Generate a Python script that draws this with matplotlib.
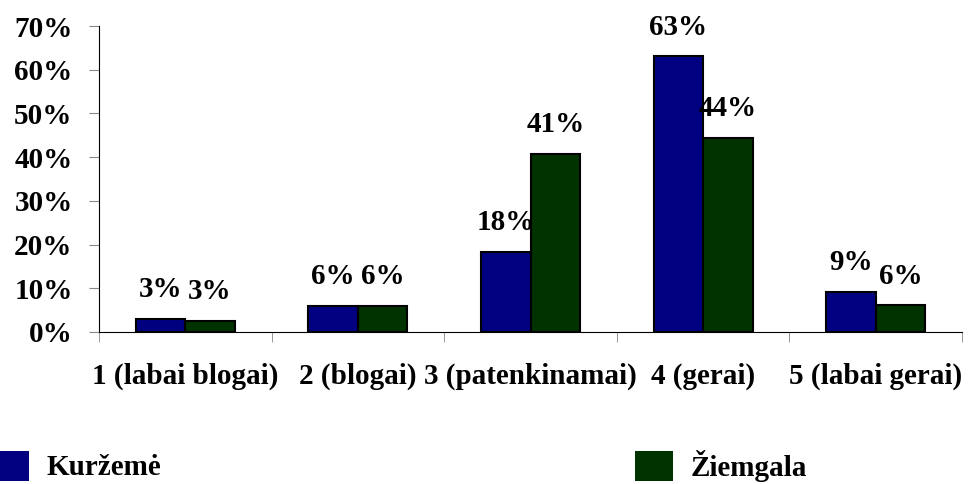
import matplotlib
matplotlib.use("Agg")
import matplotlib.pyplot as plt
import numpy as np
from matplotlib.patches import Patch

categories = ["1 (labai blogai)", "2 (blogai)", "3 (patenkinamai)", "4 (gerai)", "5 (labai gerai)"]
kurzeme = [3.0, 6.0, 18.4, 63.1, 9.2]
ziemgala = [2.6, 6.0, 40.8, 44.4, 6.1]
kurzeme_labels = ["3%", "6%", "18%", "63%", "9%"]
ziemgala_labels = ["3%", "6%", "41%", "44%", "6%"]
series_names = ["Kuržemė", "Žiemgala"]
yticks = [0, 10, 20, 30, 40, 50, 60, 70]
ytick_labels = ["0%", "10%", "20%", "30%", "40%", "50%", "60%", "70%"]

blue = "#000080"
green = "#003300"
font = "Liberation Serif"
fs = 21

fig = plt.figure(figsize=(9.69, 4.84), dpi=100)
ax = fig.add_axes([99/969, 1-332/484, (962-99)/969, (332-26)/484])

x = np.arange(len(categories))
w = 0.287
b1 = ax.bar(x - w/2, kurzeme, w, color=blue, edgecolor="black", linewidth=1.5)
b2 = ax.bar(x + w/2, ziemgala, w, color=green, edgecolor="black", linewidth=1.5)

for bars, labs in ((b1, kurzeme_labels), (b2, ziemgala_labels)):
    for r, lab in zip(bars, labs):
        ax.annotate(lab, (r.get_x() + r.get_width()/2, r.get_height()),
                    xytext=(0, 29), textcoords="offset pixels",
                    ha="center", va="center", fontsize=fs,
                    fontweight="bold", family=font)

ax.set_xlim(-0.5, len(categories) - 0.5)
ax.set_ylim(0, 70)
ax.set_yticks(yticks)
ax.set_yticklabels(ytick_labels, fontsize=fs, fontweight="bold", family=font)
ax.set_xticks(x)
ax.set_xticklabels(categories, fontsize=fs, fontweight="bold", family=font)
ax.set_xticks(np.arange(len(categories) + 1) - 0.5, minor=True)
ax.tick_params(axis="x", which="major", length=0, pad=22)
ax.tick_params(axis="x", which="minor", length=7, color="#888888", direction="out")
ax.tick_params(axis="y", length=7, color="#888888", direction="out", pad=12)
for s in ("top", "right"):
    ax.spines[s].set_visible(False)
ax.spines["left"].set_color("black")
ax.spines["bottom"].set_color("black")

leg_kw = dict(frameon=False, handlelength=1.3, handleheight=1.2,
              handletextpad=0.6, borderpad=0, borderaxespad=0,
              prop={"family": font, "weight": "bold", "size": fs})
l1 = fig.legend(handles=[Patch(facecolor=blue, edgecolor="none")], labels=[series_names[0]],
                loc="center left", bbox_to_anchor=(-9 / 969, 1 - 466/484), **leg_kw)
l2 = fig.legend(handles=[Patch(facecolor=green, edgecolor="none")], labels=[series_names[1]],
                loc="center left", bbox_to_anchor=(635 / 969, 1 - 466/484), **leg_kw)

fig.savefig("out.png", dpi=100)
